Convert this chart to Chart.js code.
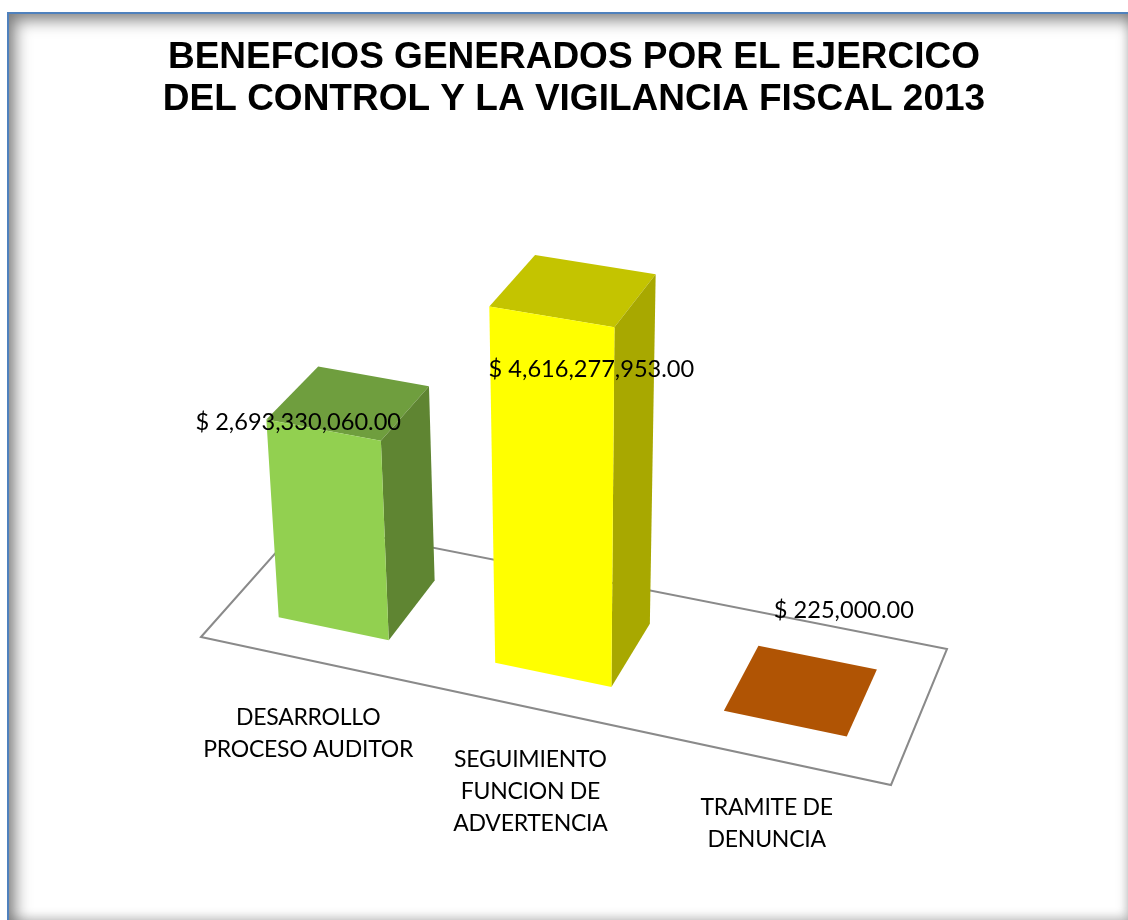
<!DOCTYPE html>
<html>
<head>
<meta charset="utf-8">
<title>Beneficios 2013</title>
<script src="https://cdn.jsdelivr.net/npm/chart.js@4/dist/chart.umd.min.js"></script>
<style>
    html, body { margin: 0; padding: 0; background: #fff; overflow: hidden; }
    #frame {
        position: absolute; left: 7px; top: 12px; width: 1121px; height: 908px;
        box-sizing: border-box;
        border-top: 2px solid #4f81bd; border-left: 2px solid #4f81bd;
        box-shadow: inset 6px 6px 16px rgba(0, 0, 0, 0.5), inset -2px -4px 8px rgba(0, 0, 0, 0.1);
    }
    #chartBox { position: absolute; left: 0; top: 0; width: 1128px; height: 920px; }
</style>
</head>
<body>
<div id="frame"></div>
<div id="chartBox"><canvas id="benefitsChart"></canvas></div>
<script>
const titleLines = ['BENEFCIOS GENERADOS POR EL EJERCICO', 'DEL CONTROL Y LA VIGILANCIA FISCAL 2013'];
const categories = [
    ['DESARROLLO', 'PROCESO AUDITOR'],
    ['SEGUIMIENTO', 'FUNCION DE', 'ADVERTENCIA'],
    ['TRAMITE DE', 'DENUNCIA']
];
const benefits = [2693330060, 4616277953, 225000];
const frontColors = ['#92d050', '#ffff00', '#b05404'];
const sideColors = ['#5f8532', '#a8a800', '#6b3302'];
const topColors = ['#6f9e3e', '#c4c400', '#b05404'];

// Floor corners on screen, used to build the 3D look
const floorFL = [201, 637], floorFR = [891, 785], floorBR = [947, 649], floorBL = [303, 522];
// Point where the vertical edges meet, and how strong the height is
const vanish = [572, 5300];
const heightK = -0.0762;
const depthFront = 0.25, depthBack = 0.75;
// Label nudges from the anchor points
const valueShift = [[-25, -8], [40, 53], [59, -113]];
const nameShift = [[0, 58], [-1, 52], [-1, 49]];

// unit square to floor quad
function buildFloor() {
    const dx1 = floorFR[0] - floorBR[0], dy1 = floorFR[1] - floorBR[1];
    const dx2 = floorBL[0] - floorBR[0], dy2 = floorBL[1] - floorBR[1];
    const sx = floorFL[0] - floorFR[0] + floorBR[0] - floorBL[0];
    const sy = floorFL[1] - floorFR[1] + floorBR[1] - floorBL[1];
    const det = dx1 * dy2 - dx2 * dy1;
    const g = (sx * dy2 - dx2 * sy) / det;
    const i = (dx1 * sy - sx * dy1) / det;
    return {
        a: floorFR[0] - floorFL[0] + g * floorFR[0],
        b: floorBL[0] - floorFL[0] + i * floorBL[0],
        c: floorFL[0],
        d: floorFR[1] - floorFL[1] + g * floorFR[1],
        e: floorBL[1] - floorFL[1] + i * floorBL[1],
        f: floorFL[1],
        g: g,
        i: i
    };
}
const floor = buildFloor();

function project(u, v, h) {
    const s = heightK * h;
    const w = floor.g * u + floor.i * v + 1 + s;
    return [
        (floor.a * u + floor.b * v + floor.c + s * vanish[0]) / w,
        (floor.d * u + floor.e * v + floor.f + s * vanish[1]) / w
    ];
}

function fillFace(ctx, pts, color) {
    ctx.beginPath();
    pts.forEach(function (p, n) {
        if (n === 0) ctx.moveTo(p[0], p[1]); else ctx.lineTo(p[0], p[1]);
    });
    ctx.closePath();
    ctx.fillStyle = color;
    ctx.fill();
}

function money(value) {
    return '$ ' + value.toLocaleString('en-US', { minimumFractionDigits: 2, maximumFractionDigits: 2 });
}

const bars3d = {
    id: 'bars3d',
    // native flat bars are replaced by the boxes below
    beforeDatasetsDraw: function () {
        return false;
    },
    afterDraw: function (chart) {
        const ctx = chart.ctx;
        const area = chart.chartArea;
        const meta = chart.getDatasetMeta(0);

        ctx.save();
        ctx.beginPath();
        ctx.moveTo(floorFL[0], floorFL[1]);
        ctx.lineTo(floorFR[0], floorFR[1]);
        ctx.lineTo(floorBR[0], floorBR[1]);
        ctx.lineTo(floorBL[0], floorBL[1]);
        ctx.closePath();
        ctx.strokeStyle = '#8a8a8a';
        ctx.lineWidth = 2;
        ctx.stroke();

        meta.data.forEach(function (bar, n) {
            const u0 = (bar.x - bar.width / 2 - area.left) / area.width;
            const u1 = (bar.x + bar.width / 2 - area.left) / area.width;
            const h = (area.bottom - bar.y) / area.height;
            const v0 = depthFront, v1 = depthBack;
            fillFace(ctx, [project(u0, v0, h), project(u1, v0, h), project(u1, v1, h), project(u0, v1, h)], topColors[n]);
            fillFace(ctx, [project(u1, v0, 0), project(u1, v1, 0), project(u1, v1, h), project(u1, v0, h)], sideColors[n]);
            fillFace(ctx, [project(u0, v0, 0), project(u1, v0, 0), project(u1, v0, h), project(u0, v0, h)], frontColors[n]);
        });

        ctx.fillStyle = '#000';
        ctx.textAlign = 'center';
        ctx.textBaseline = 'middle';
        meta.data.forEach(function (bar, n) {
            const u = (bar.x - area.left) / area.width;
            const h = (area.bottom - bar.y) / area.height;
            // value label, hung off the box top
            const top = project(u, depthFront, h);
            ctx.font = '23.6px Lato';
            ctx.letterSpacing = '0px';
            ctx.fillText(money(benefits[n]), top[0] + valueShift[n][0], top[1] + valueShift[n][1]);
            // category label, under the front edge of the floor
            const edge = project(u, 0, 0);
            ctx.font = '23px Lato';
            ctx.letterSpacing = '-0.25px';
            categories[n].forEach(function (line, k) {
                ctx.fillText(line, edge[0] + nameShift[n][0], edge[1] + nameShift[n][1] + k * 32);
            });
        });
        ctx.restore();
    }
};

new Chart(document.getElementById('benefitsChart').getContext('2d'), {
    type: 'bar',
    data: {
        labels: categories,
        datasets: [{
            label: 'Beneficios',
            data: benefits,
            backgroundColor: frontColors,
            barPercentage: 0.515,
            categoryPercentage: 1
        }]
    },
    plugins: [bars3d],
    options: {
        responsive: true,
        maintainAspectRatio: false,
        animation: false,
        // the title is squeezed to the area between these, so keep them small
        layout: { padding: { left: 70, right: 50, top: 37, bottom: 70 } },
        scales: {
            x: { display: false },
            y: { display: false, min: 0, max: 5000000000 }
        },
        plugins: {
            legend: { display: false },
            tooltip: { enabled: false },
            title: {
                display: true,
                text: titleLines,
                color: '#000',
                font: { family: '"Liberation Sans"', size: 37, weight: 'bold', lineHeight: 1.135 },
                padding: { top: 0, bottom: 20 }
            }
        }
    }
});
</script>
</body>
</html>
